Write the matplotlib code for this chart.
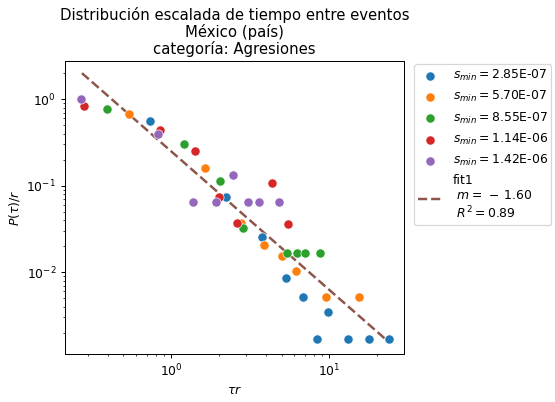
import numpy as np
import matplotlib
matplotlib.use("Agg")
import matplotlib.pyplot as plt

# valores de s_min
s_mins = [2.85e-07, 5.70e-07, 8.55e-07, 1.14e-06, 1.42e-06]

# tau*r y P(tau)/r por serie
x_1 = [0.736, 2.23, 3.77, 5.34, 6.84, 9.86, 8.4, 13.2, 17.9, 24.0]
y_1 = [0.557, 0.0736, 0.0254, 0.00853, 0.00514, 0.00345, 0.00168, 0.00168, 0.00168, 0.00168]

x_2 = [0.542, 1.64, 2.77, 3.88, 5.04, 6.18, 9.57, 15.5]
y_2 = [0.671, 0.159, 0.0368, 0.0205, 0.0153, 0.0103, 0.00514, 0.00514]

x_3 = [0.394, 1.21, 2.04, 2.86, 5.42, 6.27, 7.05, 8.77]
y_3 = [0.766, 0.302, 0.113, 0.0323, 0.0166, 0.0166, 0.0166, 0.0166]

x_4 = [0.281, 0.852, 1.42, 2.01, 2.62, 4.36, 5.5]
y_4 = [0.83, 0.438, 0.25, 0.0736, 0.0368, 0.107, 0.0359]

x_5 = [0.269, 0.828, 1.38, 1.93, 2.47, 3.07, 3.61, 4.79]
y_5 = [1.0, 0.394, 0.0645, 0.0645, 0.132, 0.0645, 0.0645, 0.0645]

# ajuste
m = -1.60
r2 = 0.89
A = 0.25
fit_x = [0.273, 24.3]

xs = [x_1, x_2, x_3, x_4, x_5]
ys = [y_1, y_2, y_3, y_4, y_5]

dpi = 89
fig = plt.figure(figsize=(555 / dpi, 402 / dpi), dpi=dpi)
ax = fig.add_axes([0.117, 0.119, 0.611, 0.729])

for s, xx, yy in zip(s_mins, xs, ys):
    ax.scatter(xx, yy, s=55, edgecolors="white", linewidths=0.5,
               label=r"$s_{min} = $" + f"{s:.2E}", zorder=3)

fx = np.array(fit_x)
ax.plot(fx, A * fx ** m, "--", color="tab:brown", lw=2,
        label="fit1\n " + r"$m =\,-\,1.60$" + "\n " + f"$R^2 = {r2:.2f}$", zorder=2)

ax.set_xscale("log")
ax.set_yscale("log")
ax.set_xlim(0.213, 29.8)
ax.set_ylim(0.00113, 2.75)
ax.set_xlabel(r"$\tau r$")
ax.set_ylabel(r"$P(\tau)/r$")
ax.set_title("Distribución escalada de tiempo entre eventos\nMéxico (país)\ncategoría: Agresiones",
             linespacing=1.05)
ax.legend(loc="upper left", bbox_to_anchor=(1.012, 1.01), borderpad=0.3,
          handletextpad=0.8)

fig.savefig("out.png", dpi=dpi)
